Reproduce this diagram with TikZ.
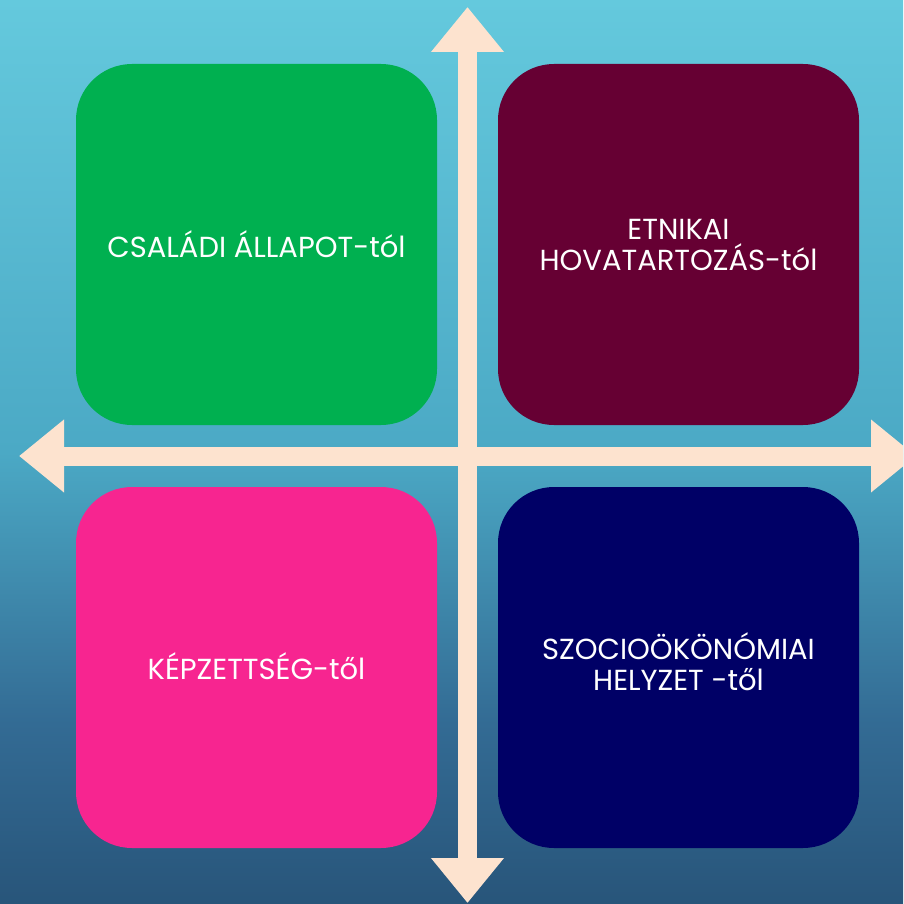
\documentclass[tikz,border=0pt]{standalone}
\usepackage{fontspec}
\setmainfont{Poppins}
\usetikzlibrary{arrows.meta}
\definecolor{peach}{HTML}{FDE3CF}
\definecolor{cgreen}{HTML}{00B050}
\definecolor{cmaroon}{HTML}{660033}
\definecolor{cpink}{HTML}{F72590}
\definecolor{cnavy}{HTML}{000066}
\definecolor{bga}{HTML}{28557A}
\definecolor{bgb}{HTML}{336B94}
\definecolor{bgc}{HTML}{4BA9C5}
\definecolor{bgd}{HTML}{64C9DD}
\pgfdeclareverticalshading{bgshade}{100bp}{
  color(0bp)=(bga);
  color(25bp)=(bga);
  color(35bp)=(bgb);
  color(50bp)=(bgc);
  color(75bp)=(bgd);
  color(100bp)=(bgd)}
\tikzset{
  quad/.style={rounded corners=56pt, inner sep=0pt},
  qtext/.style={text=white, align=center, font=\fontsize{29}{31}\selectfont},
  axis/.style={peach, line width=19pt, {Triangle[length=45pt,width=70pt]}-{Triangle[length=45pt,width=70pt]}}
}
\begin{document}
\begin{tikzpicture}[x=1pt,y=-1pt]
\useasboundingbox (0,0) rectangle (903,904);
\clip (0,0) rectangle (903,904);
\shade[shading=bgshade] (0,0) rectangle (903,904);
% boxes
\fill[quad, cgreen] (76,64) rectangle (437,425);
\fill[quad, cmaroon] (498,64) rectangle (859,425);
\fill[quad, cpink] (76,487) rectangle (437,848);
\fill[quad, cnavy] (498,487) rectangle (859,848);
\node[qtext] (tl) at (256.5,244) {CSALÁDI ÁLLAPOT-tól};
\node[qtext] (tr) at (678.5,245) {ETNIKAI\\HOVATARTOZÁS-tól};
\node[qtext] (bl) at (256.5,666) {KÉPZETTSÉG-től};
\node[qtext] (br) at (678.5,662) {SZOCIOÖKÖNÓMIAI\\HELYZET -től};
% axes
\coordinate (vt) at (467.5,7);
\coordinate (vb) at (467.5,903);
\coordinate (hl) at (19,456);
\coordinate (hr) at (916,456);
\draw[axis] (vt) -- (vb);
\draw[axis] (hl) -- (hr);
\end{tikzpicture}
\end{document}
